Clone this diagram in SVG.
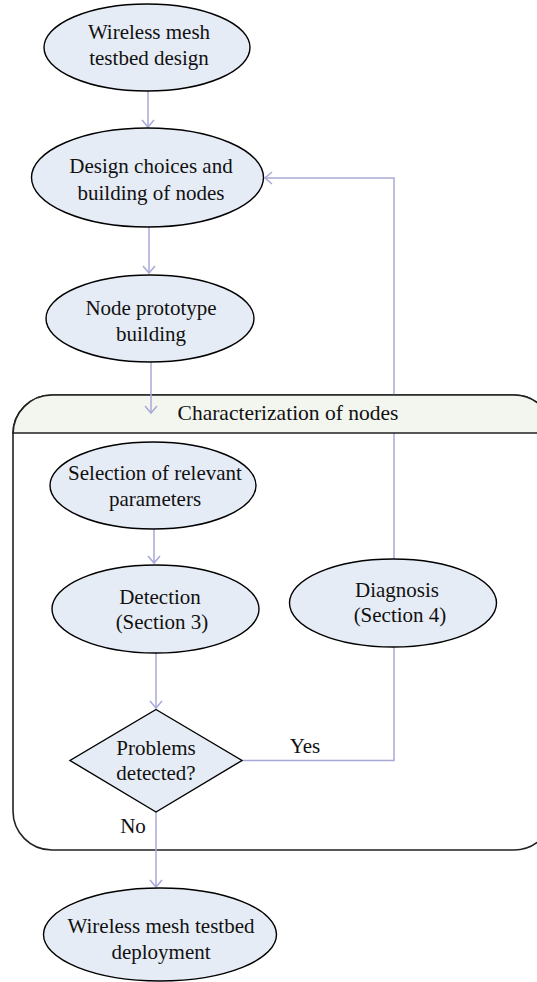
<svg xmlns="http://www.w3.org/2000/svg" width="537" height="982" viewBox="0 0 537 982">
<style>
.n{fill:#e6ecf5;stroke:#000;stroke-width:1.4}
.t{font-family:"Liberation Serif","Times New Roman",serif;font-size:21px;fill:#111;text-anchor:middle}
.c{fill:none;stroke:#a9a9d8;stroke-width:1.5}
</style>
<defs>
<marker id="ah" markerUnits="userSpaceOnUse" markerWidth="16" markerHeight="16" viewBox="-8 -8 16 16" refX="0" refY="0" orient="auto">
<path d="M-7,-6 L0,0 L-7,6" fill="none" stroke="#a9a9d8" stroke-width="1.5"/>
</marker>
</defs>
<rect width="537" height="982" fill="#fff"/>
<g id="container-body">
<rect x="13" y="395" width="540" height="455" rx="39" ry="39" fill="#fff" stroke="#222" stroke-width="1.6"/>
</g>
<g id="feedback-connector">
<path class="c" d="M394,559 V178 H265" marker-end="url(#ah)"/>
</g>
<g id="container">
<path d="M13,433 L13,434 A39,39 0 0 1 52,395 H514 A39,39 0 0 1 553,434 L553,433 Z" fill="#f3f5ef" stroke="#222" stroke-width="1.6"/>
<text class="t" x="288" y="420" style="font-size:21.5px">Characterization of nodes</text>
</g>
<g id="connectors">
<path class="c" d="M148,91 V127" marker-end="url(#ah)"/>
<path class="c" d="M149,227 V273" marker-end="url(#ah)"/>
<path class="c" d="M151,362 V413" marker-end="url(#ah)"/>
<path class="c" d="M154,529 V563" marker-end="url(#ah)"/>
<path class="c" d="M156,653 V708" marker-end="url(#ah)"/>
<path class="c" d="M156,812 V887" marker-end="url(#ah)"/>
<path class="c" d="M242,760.5 H394 V647"/>
<text class="t" x="305" y="753">Yes</text>
<text class="t" x="133" y="833">No</text>
</g>
<g id="n1">
<ellipse class="n" cx="147" cy="47.5" rx="103" ry="43.5"/>
<text class="t" x="149" y="39">Wireless mesh</text>
<text class="t" x="149" y="64.5">testbed design</text>
</g>
<g id="n2">
<ellipse class="n" cx="147.5" cy="177.5" rx="116" ry="49.5"/>
<text class="t" x="151" y="173">Design choices and</text>
<text class="t" x="151" y="199.5">building of nodes</text>
</g>
<g id="n3">
<ellipse class="n" cx="150" cy="318.5" rx="104" ry="43.5"/>
<text class="t" x="151" y="315">Node prototype</text>
<text class="t" x="151" y="340.5">building</text>
</g>
<g id="n4">
<ellipse class="n" cx="153" cy="485.5" rx="103" ry="43.5"/>
<text class="t" x="155" y="480">Selection of relevant</text>
<text class="t" x="155" y="506">parameters</text>
</g>
<g id="n5">
<ellipse class="n" cx="155.5" cy="609" rx="103.5" ry="44"/>
<text class="t" x="160" y="604">Detection</text>
<text class="t" x="162" y="629">(Section 3)</text>
</g>
<g id="n6">
<ellipse class="n" cx="393" cy="603" rx="103.5" ry="44"/>
<text class="t" x="397" y="597">Diagnosis</text>
<text class="t" x="400" y="622">(Section 4)</text>
</g>
<g id="n7">
<path class="n" d="M156,709.5 L242,760.5 L156,812 L70,760.5 Z"/>
<text class="t" x="156" y="755">Problems</text>
<text class="t" x="156" y="780">detected?</text>
</g>
<g id="n8">
<ellipse class="n" cx="160" cy="934.5" rx="116.5" ry="46.5"/>
<text class="t" x="161" y="933">Wireless mesh testbed</text>
<text class="t" x="161" y="959">deployment</text>
</g>
</svg>
